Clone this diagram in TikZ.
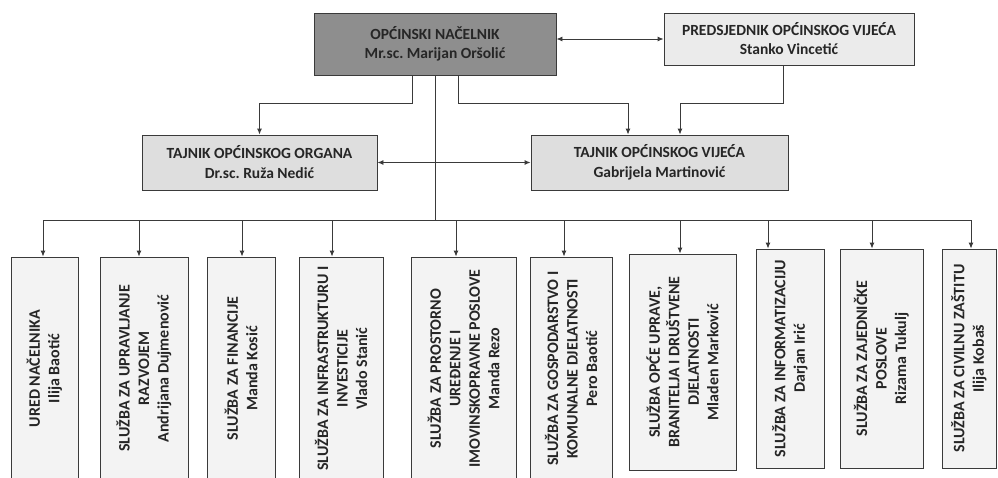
\documentclass[tikz,border=0pt]{standalone}
\usepackage{fontspec}
\setmainfont{Carlito}
\usetikzlibrary{arrows.meta}
\frenchspacing
\definecolor{linec}{HTML}{3A3A3A}
\definecolor{topfill}{HTML}{8E8E8E}
\definecolor{midfill}{HTML}{DEDEDE}
\definecolor{predfill}{HTML}{EBEBEB}
\definecolor{lowfill}{HTML}{F3F3F3}
\definecolor{txt}{HTML}{262626}
\begin{document}
\begin{tikzpicture}[x=1pt,y=-1pt,
  box/.style={draw=linec, line width=0.9pt, inner sep=0pt, align=center, text=txt},
  topbox/.style={box, fill=topfill, font=\fontsize{15.5}{19}\selectfont\bfseries},
  predbox/.style={box, fill=predfill, font=\fontsize{15.5}{19}\selectfont\bfseries},
  midbox/.style={box, fill=midfill, font=\fontsize{15.5}{20}\selectfont\bfseries},
  lowbox/.style={box, fill=lowfill},
  lowtext/.style={rotate=90, align=center, text=txt, inner sep=0pt, font=\fontsize{16}{19.5}\selectfont\bfseries},
  conn/.style={draw=linec, line width=0.9pt},
  arr/.style={conn, -{Latex[length=6pt,width=5pt]}},
  arrb/.style={conn, {Latex[length=6pt,width=5pt]}-{Latex[length=6pt,width=5pt]}}
]
\useasboundingbox (0,0) rectangle (998,477);
\fill[white] (0,0) rectangle (998,477);

% top level
\node[topbox, minimum width=242pt, minimum height=62pt] (top) at (435,44) {OPĆINSKI NAČELNIK\\Mr.sc. Marijan Oršolić};
\node[predbox, minimum width=250pt, minimum height=52pt] (pred) at (789,39) {PREDSJEDNIK OPĆINSKOG VIJEĆA\\Stanko Vincetić};

% second level
\node[midbox, minimum width=235pt, minimum height=55pt] (tajo) at (259.5,162.5) {TAJNIK OPĆINSKOG ORGANA\\Dr.sc. Ruža Nedić};
\node[midbox, minimum width=257pt, minimum height=55pt] (tajv) at (659.5,162.5) {TAJNIK OPĆINSKOG VIJEĆA\\Gabrijela Martinović};

\draw[arrb] (pred.west -| top.east) -- (pred.west);
\draw[arrb] (tajo.east) -- (tajv.west);
\draw[arr] ([xshift=-23pt]top.south) -- ++(0,28) -| (tajo.north);
\draw[arr] ([xshift=23pt]top.south) -- ++(0,28) -| ([xshift=-31.5pt]tajv.north);
\draw[arr] ([xshift=-6pt]pred.south) -- ++(0,38) -| ([xshift=20.5pt]tajv.north);

% lower boxes
\node[lowbox, minimum width=67pt, minimum height=223pt] (b1) at (44.5,368.5) {};
\node[lowbox, minimum width=88pt, minimum height=223pt] (b2) at (144,368.5) {};
\node[lowbox, minimum width=68pt, minimum height=223pt] (b3) at (241,368.5) {};
\node[lowbox, minimum width=84pt, minimum height=223pt] (b4) at (341,368.5) {};
\node[lowbox, minimum width=105pt, minimum height=223pt] (b5) at (463.5,368.5) {};
\node[lowbox, minimum width=82pt, minimum height=223pt] (b6) at (571,368.5) {};
\node[lowbox, minimum width=107pt, minimum height=216pt] (b7) at (682.5,362) {};
\node[lowbox, minimum width=68pt, minimum height=219pt] (b8) at (790,358.5) {};
\node[lowbox, minimum width=83pt, minimum height=219pt] (b9) at (881.5,358.5) {};
\node[lowbox, minimum width=54pt, minimum height=219pt] (b10) at (969,358.5) {};

\node[lowtext] (l1) at (b1) {URED NAČELNIKA\\Ilija Baotić};
\node[lowtext] (l2) at (b2) {SLUŽBA ZA UPRAVLJANJE\\RAZVOJEM\\Andrijana Dujmenović};
\node[lowtext] (l3) at (b3) {SLUŽBA ZA FINANCIJE\\Manda Kosić};
\node[lowtext] (l4) at (b4) {SLUŽBA ZA INFRASTRUKTURU I\\INVESTICIJE\\Vlado Stanić};
\node[lowtext] (l5) at (b5) {SLUŽBA ZA PROSTORNO\\UREĐENJE I\\IMOVINSKOPRAVNE POSLOVE\\Manda Rezo};
\node[lowtext] (l6) at (b6) {SLUŽBA ZA GOSPODARSTVO I\\KOMUNALNE DJELATNOSTI\\Pero Baotić};
\node[lowtext] (l7) at (b7) {SLUŽBA OPĆE UPRAVE,\\BRANITELJA I DRUŠTVENE\\DJELATNOSTI\\Mladen Marković};
\node[lowtext] (l8) at (b8) {SLUŽBA ZA INFORMATIZACIJU\\Darjan Irić};
\node[lowtext] (l9) at (b9) {SLUŽBA ZA ZAJEDNIČKE\\POSLOVE\\Rizama Tukulj};
\node[lowtext] (l10) at (b10) {SLUŽBA ZA CIVILNU ZAŠTITU\\Ilija Kobaš};

% bus
\coordinate (bus) at (top.south |- 0,220);
\coordinate (t1) at (43,220);
\coordinate (t2) at (139,220);
\coordinate (t3) at (242,220);
\coordinate (t4) at (332,220);
\coordinate (t5) at (456,220);
\coordinate (t6) at (564,220);
\coordinate (t7) at (680,220);
\coordinate (t8) at (768,220);
\coordinate (t9) at (872,220);
\coordinate (t10) at (971,220);
\draw[conn] (top.south) -- (bus);
\draw[conn] (t1) -- (t10);
\foreach \i in {1,...,10} {
  \draw[arr] (t\i) -- (t\i |- b\i.north);
}
\end{tikzpicture}
\end{document}
